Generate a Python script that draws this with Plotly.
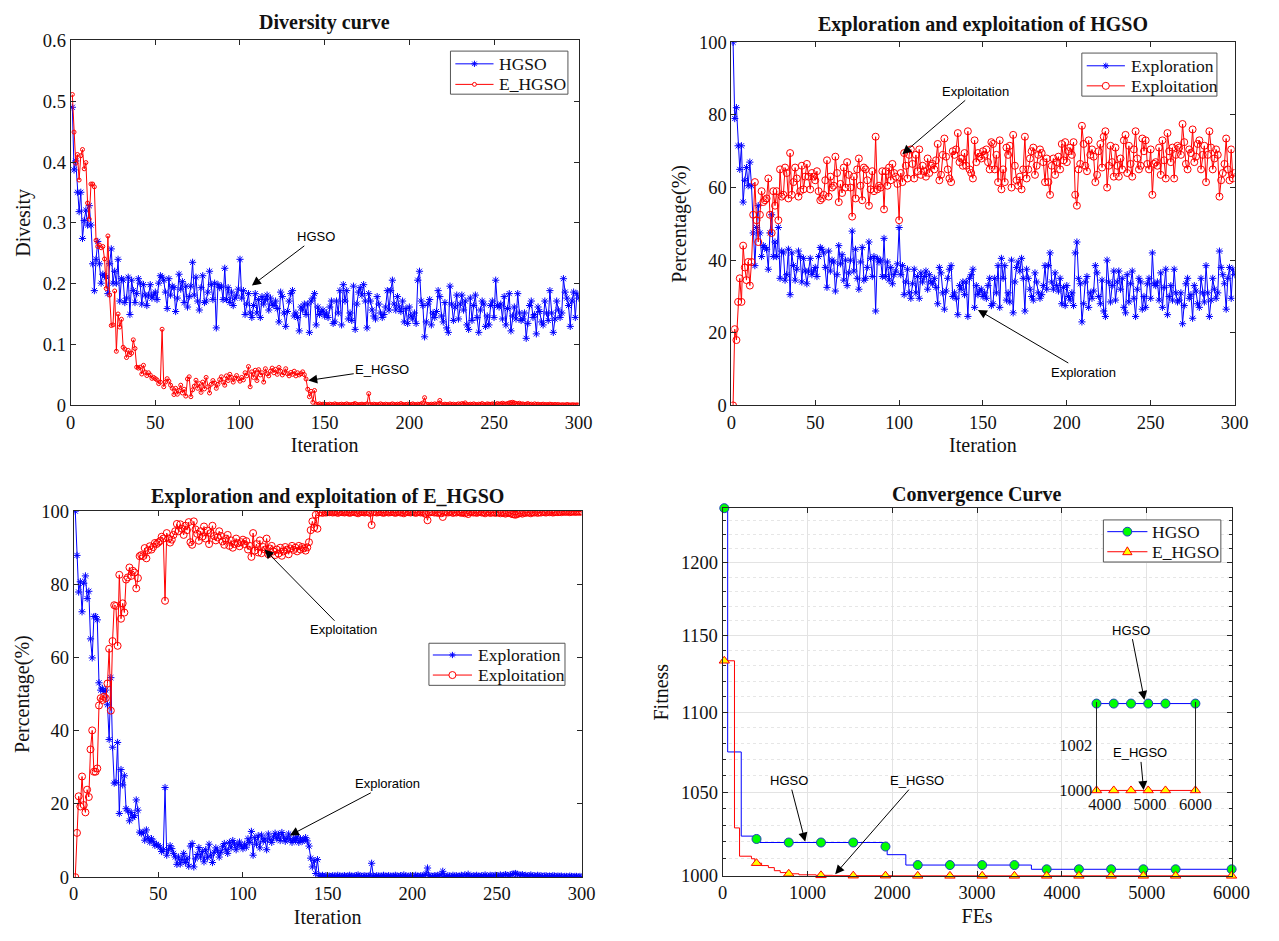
import numpy as np
import plotly.graph_objects as go

# ---------------- data ----------------
iterations = list(range(1, 301))

# largest population diversity of each run (iteration 1)
hgso_div_max = 0.49
ehgso_div_max = 0.511

# exploration percentage per iteration, XPL% = Div / max(Div) * 100
hgso_xpl = [
    100, 79, 82, 71.5, 65, 71.5, 56, 62, 65.5, 60.5,
    67, 60.5, 47.5, 38.5, 49, 55, 47.5, 41, 44, 43.5,
    43, 37.5, 47.5, 52.5, 41, 45, 41, 49, 35, 42.5,
    42, 34.5, 36, 43, 30.5, 42, 38.5, 34.5, 37.5, 42.5,
    41, 34, 40.5, 37, 33.5, 37, 40.5, 36, 37, 38,
    35.5, 41, 43.5, 43, 42, 38, 32.5, 42.5, 37, 40,
    39.5, 31.5, 36, 44, 39, 41.5, 34.5, 40, 33, 36.5,
    40, 48, 37, 43, 35, 32, 39.5, 43.5, 34.5, 35,
    38, 45, 40.5, 35.5, 41, 26, 40.5, 39.5, 40, 35.5,
    46, 35.5, 39.5, 34.5, 38, 33.5, 36, 37, 39, 49,
    36, 38.5, 30.5, 34, 37.5, 31, 29.5, 33.5, 37.5, 31,
    35.5, 29.5, 36.5, 34, 35.5, 37, 32, 36, 34, 33.5,
    35, 32.5, 28, 38, 36.5, 31, 26.5, 31.5, 35, 37.5,
    38.5, 30, 31, 29.5, 25, 33, 32, 34, 30.5, 34,
    24.5, 35, 36, 37.5, 27, 33, 30.5, 31.5, 32, 30,
    31, 29.5, 33, 35, 27.5, 28, 35, 31, 38.5, 27,
    40.5, 35, 38.5, 29, 31, 28.5, 40, 25.5, 34, 38,
    39.5, 37, 40.5, 35, 26, 37.5, 35, 32, 30, 29,
    36.5, 34, 31, 29.5, 30.5, 33, 38.5, 32, 38.5, 42,
    34, 32, 36.5, 33, 31.5, 35, 28, 32.5, 27.5, 33,
    30, 29, 31, 27.5, 42, 45, 35, 33.5, 23, 28,
    34, 35.5, 27, 31, 29.5, 31.5, 38.5, 36.5, 30, 28,
    34.5, 26, 24.5, 40, 34, 28.5, 33, 37, 29, 34,
    37, 32, 35, 27, 25.5, 36, 28.5, 33.5, 37, 29.5,
    24.5, 32, 35, 34, 26.5, 30, 27, 33.5, 35, 29.5,
    42, 33.5, 33, 34, 29, 36.5, 27, 32.5, 37.5, 25,
    30, 33, 29, 37.5, 31, 28.5, 29, 31, 22.5, 27.5,
    33.5, 35, 29.5, 30.5, 24, 33, 31.5, 28, 27, 35,
    31, 28.5, 38.5, 31, 24.5, 29, 35, 32, 29.5, 31,
    42.5, 38, 36, 33.5, 26.5, 35, 38, 29.5, 37.5, 36,
]

ehgso_xpl = [
    100, 87.9, 77.9, 80.7, 72.5, 80.3, 82.3, 76.1, 78.1, 65.1,
    59.9, 71.2, 71.2, 70.3, 53.1, 51.1, 51.6, 50.7, 51.1, 47.1,
    37.6, 54.5, 35.5, 25.7, 25.9, 36.8, 17.4, 29.4, 25.2, 27.7,
    18.7, 18.1, 15.4, 17.7, 16.3, 16.8, 21.1, 18.3, 12.3, 12.0,
    12.3, 10.1, 12.9, 10.7, 9.6, 10.5, 9.8, 8.7, 9.0, 8.6,
    8.2, 7.0, 7.5, 24.5, 6.0, 7.5, 8.6, 7.8, 6.5, 5.5,
    3.5, 5.5, 3.6, 4.8, 6.5, 4.0, 5.2, 3.0, 8.5, 9.2,
    2.8, 5.0, 6.2, 8.1, 5.5, 7.0, 4.2, 7.5, 5.3, 9.0,
    6.0, 4.0, 6.8, 8.0, 7.2, 5.5, 6.8, 8.3, 9.2, 7.5,
    6.5, 9.5, 8.0, 10.0, 9.0, 7.5, 8.8, 9.6, 8.5, 7.8,
    9.0, 8.2, 10.5, 9.5, 12.5, 6.0, 10.8, 9.0, 11.3, 8.0,
    11.5, 9.8, 10.5, 7.5, 11.8, 10.2, 9.5, 11.0, 12.0, 10.5,
    11.6, 10.0, 12.2, 11.0, 9.8, 10.5, 11.8, 10.2, 9.5, 10.6,
    10.0, 11.0, 9.5, 10.5, 9.8, 10.2, 10.8, 9.9, 8.5, 5.2,
    2.8, 4.5, 1.0, 4.8, 0.4, 0.3, 0.5, 0.2, 0.4, 0.3,
    0.3, 0.2, 0.4, 0.3, 0.2, 0.5, 0.3, 0.2, 0.3, 0.4,
    0.2, 0.3, 0.5, 0.3, 0.2, 0.3, 0.4, 0.6, 0.3, 0.2,
    0.3, 0.4, 0.2, 0.3, 0.5, 3.8, 0.3, 0.2, 0.4, 0.3,
    0.2, 0.3, 0.5, 0.3, 0.2, 0.4, 0.3, 0.2, 0.3, 0.5,
    0.3, 0.2, 0.4, 0.3, 0.6, 0.3, 0.2, 0.3, 0.4, 0.2,
    0.3, 0.5, 0.3, 0.2, 0.4, 0.3, 0.5, 0.8, 2.5, 0.4,
    0.3, 0.2, 0.4, 0.3, 0.5, 0.3, 0.6, 1.6, 0.3, 0.2,
    0.4, 0.3, 0.2, 0.5, 0.3, 0.4, 0.2, 0.3, 0.5, 0.3,
    0.6, 0.4, 0.8, 0.3, 0.2, 0.4, 0.3, 0.5, 0.3, 0.2,
    0.4, 0.3, 0.6, 0.3, 0.2, 0.5, 0.4, 0.3, 0.5, 0.4,
    0.3, 0.6, 0.4, 0.5, 0.7, 0.5, 0.4, 0.6, 0.8, 0.9,
    1.0, 0.8, 0.6, 0.5, 0.7, 0.4, 0.5, 0.3, 0.4, 0.6,
    0.3, 0.4, 0.2, 0.5, 0.3, 0.4, 0.2, 0.3, 0.4, 0.2,
    0.3, 0.2, 0.4, 0.3, 0.2, 0.3, 0.2, 0.3, 0.1, 0.2,
    0.2, 0.1, 0.3, 0.2, 0.1, 0.2, 0.2, 0.1, 0.2, 0.1,
]

# convergence: FEs at which the best fitness improved, and the new best value
hgso_conv_fes = [20, 60, 220, 400, 440, 1900, 1940, 2160, 3640]
hgso_conv_fit = [1238.7, 1074.8, 1023.4, 1021.7, 1019.6, 1017.2, 1012.4, 1006.3, 1003.83]
ehgso_conv_fes = [20, 140, 200, 340, 380, 460, 540, 610, 680, 760, 900, 1100, 1300, 2000]
ehgso_conv_fit = [1133.4, 1028.3, 1011.5, 1010.0, 1007.4, 1006.0, 1004.8, 1003.0,
                  1001.9, 1001.2, 1000.6, 1000.3, 1000.1, 1000.0]
max_fes = 6000
marker_fes = [20, 400, 780, 1160, 1540, 1920, 2300, 2680, 3060, 3440,
              3820, 4200, 4580, 4960, 5340, 6000]

# ---------------- derived series ----------------
hgso_div = [v / 100 * hgso_div_max for v in hgso_xpl]
ehgso_div = [v / 100 * ehgso_div_max for v in ehgso_xpl]
hgso_xpt = [100 - v for v in hgso_xpl]
ehgso_xpt = [100 - v for v in ehgso_xpl]


def best_at(fes_steps, fit_steps, f):
    val = fit_steps[0]
    for s, v in zip(fes_steps, fit_steps):
        if s <= f:
            val = v
    return val


hgso_line_x = hgso_conv_fes + [max_fes]
hgso_line_y = hgso_conv_fit + [hgso_conv_fit[-1]]
ehgso_line_x = ehgso_conv_fes + [max_fes]
ehgso_line_y = ehgso_conv_fit + [ehgso_conv_fit[-1]]
hgso_mk_y = [best_at(hgso_conv_fes, hgso_conv_fit, f) for f in marker_fes]
ehgso_mk_y = [best_at(ehgso_conv_fes, ehgso_conv_fit, f) for f in marker_fes]
inset_fes = [f for f in marker_fes if f >= 3820]
hgso_in_y = [best_at(hgso_conv_fes, hgso_conv_fit, f) for f in inset_fes]
ehgso_in_y = [best_at(ehgso_conv_fes, ehgso_conv_fit, f) for f in inset_fes]

# ---------------- style helpers ----------------
W, H = 1279, 941
SERIF = "Liberation Serif"
SANS = "Liberation Sans"
BLUE = "#0000ff"
RED = "#ff0000"
AX = "#262626"
GREEN = "#00ff00"
YELLOW = "#ffff00"
RING = "#1f3fbf"


def xdom(l, r):
    return [l / W, r / W]


def ydom(t, b):
    return [1 - b / H, 1 - t / H]


def axis(**kw):
    d = dict(showline=True, linecolor=AX, linewidth=1, mirror="ticks",
             ticks="inside", ticklen=5, tickcolor=AX,
             tickfont=dict(family=SERIF, size=18.5, color="#111"),
             showgrid=False, zeroline=False,
             title_font=dict(family=SERIF, size=20, color="#111"))
    d.update(kw)
    return d


star = dict(symbol="asterisk-open", size=6, color=BLUE, line=dict(width=1, color=BLUE))
ring_small = dict(symbol="circle-open", size=4, color=RED, line=dict(width=1, color=RED))
ring = dict(symbol="circle-open", size=7, color=RED, line=dict(width=1, color=RED))
hgso_mk = dict(symbol="circle", size=9, color=GREEN, line=dict(width=1, color=RING))
ehgso_mk = dict(symbol="triangle-up", size=9, color=YELLOW, line=dict(width=1, color=RED))

fig = go.Figure()


def series(x, y, color, marker, xa, ya):
    fig.add_trace(go.Scatter(x=x, y=y, mode="lines+markers", line=dict(color=color, width=1),
                             marker=marker, xaxis=xa, yaxis=ya))


# diversity
series(iterations, hgso_div, BLUE, star, "x", "y")
series(iterations, ehgso_div, RED, ring_small, "x", "y")
# HGSO exploration / exploitation
series(iterations, hgso_xpl, BLUE, star, "x2", "y2")
series(iterations, hgso_xpt, RED, ring, "x2", "y2")
# E_HGSO exploration / exploitation
series(iterations, ehgso_xpl, BLUE, star, "x3", "y3")
series(iterations, ehgso_xpt, RED, ring, "x3", "y3")

# convergence curves (main panel and magnified inset)
for xa, ya in (("x4", "y4"), ("x5", "y5")):
    fig.add_trace(go.Scatter(x=hgso_line_x, y=hgso_line_y, mode="lines", line_shape="hv",
                             line=dict(color=BLUE, width=1), xaxis=xa, yaxis=ya))
    fig.add_trace(go.Scatter(x=ehgso_line_x, y=ehgso_line_y, mode="lines", line_shape="hv",
                             line=dict(color=RED, width=1), xaxis=xa, yaxis=ya))
fig.add_trace(go.Scatter(x=marker_fes, y=hgso_mk_y, mode="markers", marker=hgso_mk,
                         cliponaxis=False, xaxis="x4", yaxis="y4"))
fig.add_trace(go.Scatter(x=marker_fes, y=ehgso_mk_y, mode="markers", marker=ehgso_mk,
                         cliponaxis=False, xaxis="x4", yaxis="y4"))
fig.add_trace(go.Scatter(x=inset_fes, y=hgso_in_y, mode="markers", marker=hgso_mk,
                         cliponaxis=False, xaxis="x5", yaxis="y5"))
fig.add_trace(go.Scatter(x=inset_fes, y=ehgso_in_y, mode="markers", marker=ehgso_mk,
                         cliponaxis=False, xaxis="x5", yaxis="y5"))

# ---------------- axes ----------------
minor_fit = [v for v in range(1010, 1240, 10) if v % 50 != 0]
inset_font = dict(family=SERIF, size=16.5, color="#111")

fig.update_layout(
    width=W, height=H, margin=dict(l=0, r=0, t=0, b=0), showlegend=False,
    paper_bgcolor="white", plot_bgcolor="rgba(0,0,0,0)",
    xaxis=axis(domain=xdom(64, 583), range=[0, 300], dtick=50, title_text="Iteration",
               anchor="y", title_standoff=6),
    yaxis=axis(domain=ydom(31, 404), range=[0, 0.6], dtick=0.1, title_text="Divesity",
               anchor="x", title_standoff=6),
    xaxis2=axis(domain=xdom(739, 1253), range=[0, 300], dtick=50, title_text="Iteration",
                anchor="y2", title_standoff=6),
    yaxis2=axis(domain=ydom(33, 404), range=[0, 100], dtick=20, title_text="Percentage(%)",
                anchor="x2", title_standoff=6),
    xaxis3=axis(domain=xdom(67, 586), range=[0, 300], dtick=50, title_text="Iteration",
                anchor="y3", title_standoff=6),
    yaxis3=axis(domain=ydom(512, 886), range=[0, 100], dtick=20, title_text="Percentage(%)",
                anchor="x3", title_standoff=6),
    xaxis4=axis(domain=xdom(730, 1250), range=[0, max_fes], dtick=1000, title_text="FEs",
                anchor="y4", title_standoff=6, showgrid=True, gridcolor="#e3e3e3"),
    yaxis4=axis(domain=ydom(509, 885), type="log",
                range=[np.log10(999.8), np.log10(1238.7)],
                tickvals=[1000, 1050, 1100, 1150, 1200], title_text="Fitness",
                anchor="x4", title_standoff=6, showgrid=True, gridcolor="#e3e3e3",
                minor=dict(tickvals=minor_fit, showgrid=True, gridcolor="#e6e6e6",
                           griddash="dot", ticks="inside", ticklen=3, tickcolor=AX)),
    xaxis5=dict(domain=xdom(1112, 1213), range=[3820, 6000], tickvals=[4000, 5000, 6000],
                showline=False, showgrid=False, zeroline=False, ticks="",
                tickfont=inset_font, anchor="y5"),
    yaxis5=dict(domain=ydom(707, 799), range=[999.93, 1003.9], tickvals=[1000, 1002],
                showline=True, mirror=True, linecolor=AX, linewidth=1,
                showgrid=False, zeroline=False, ticks="",
                tickfont=inset_font, anchor="x5"),
)

# ---------------- legends (boxed keys) ----------------
shapes = []
annotations = []


def px(x, y):
    return x / W, 1 - y / H


def seg(x0, y0, x1, y1, color, width=1):
    a, b = px(x0, y0)
    c, d = px(x1, y1)
    shapes.append(dict(type="line", xref="paper", yref="paper", x0=a, y0=b, x1=c, y1=d,
                       line=dict(color=color, width=width), layer="above"))


def circle(cx, cy, r, fill, edge):
    a, b = px(cx - r, cy + r)
    c, d = px(cx + r, cy - r)
    shapes.append(dict(type="circle", xref="paper", yref="paper", x0=a, y0=b, x1=c, y1=d,
                       fillcolor=fill, line=dict(color=edge, width=1), layer="above"))


def triangle(cx, cy, r, fill, edge):
    pts = [px(cx, cy - r), px(cx + r * 0.95, cy + r * 0.6), px(cx - r * 0.95, cy + r * 0.6)]
    path = "M %f,%f L %f,%f L %f,%f Z" % (pts[0] + pts[1] + pts[2])
    shapes.append(dict(type="path", xref="paper", yref="paper", path=path,
                       fillcolor=fill, line=dict(color=edge, width=1), layer="above"))


def asterisk(cx, cy, r, color):
    seg(cx - r, cy, cx + r, cy, color)
    seg(cx, cy - r, cx, cy + r, color)
    k = r * 0.72
    seg(cx - k, cy - k, cx + k, cy + k, color)
    seg(cx - k, cy + k, cx + k, cy - k, color)


def legend_box(left, top, right, bottom, rows, line_x0, line_x1, text_x):
    a, b = px(left, bottom)
    c, d = px(right, top)
    shapes.append(dict(type="rect", xref="paper", yref="paper", x0=a, y0=b, x1=c, y1=d,
                       fillcolor="white", line=dict(color="#555", width=1), layer="above"))
    mid = (line_x0 + line_x1) / 2
    for label, y, color, key in rows:
        seg(line_x0, y, line_x1, y, color)
        key(mid, y)
        tx, ty = px(text_x, y)
        annotations.append(dict(text=label, x=tx, y=ty, xref="paper", yref="paper",
                                xanchor="left", yanchor="middle", showarrow=False,
                                font=dict(family=SERIF, size=17.5, color="#111")))


key_star = lambda x, y: asterisk(x, y, 3.2, BLUE)
key_dot = lambda x, y: circle(x, y, 2, "white", RED)
key_ring = lambda x, y: circle(x, y, 3.6, "white", RED)
key_green = lambda x, y: circle(x, y, 4.5, GREEN, RING)
key_tri = lambda x, y: triangle(x, y, 5, YELLOW, RED)

legend_box(452, 42, 572, 86, [("HGSO", 55, BLUE, key_star), ("E_HGSO", 76, RED, key_dot)],
           457, 496, 500)
legend_box(1097, 44, 1235, 88, [("Exploration", 57, BLUE, key_star),
                                ("Exploitation", 77.5, RED, key_ring)], 1102, 1141, 1145)
legend_box(430, 647, 569, 690, [("Exploration", 659, BLUE, key_star),
                                ("Exploitation", 679.5, RED, key_ring)], 434, 474, 478)
legend_box(1119, 521, 1239, 564, [("HGSO", 533, BLUE, key_green),
                                  ("E_HGSO", 553.5, RED, key_tri)], 1123, 1164, 1167)

# ---------------- titles and callouts ----------------
for text, cx, cy in (("Diversity curve", 323.5, 13),
                     ("Exploration and exploitation of HGSO", 996, 15),
                     ("Exploration and exploitation of E_HGSO", 326.5, 497),
                     ("Convergence Curve", 990, 495)):
    annotations.append(dict(text="<b>%s</b>" % text, x=cx / W, y=1 - cy / H,
                            xref="paper", yref="paper", showarrow=False,
                            xanchor="center", yanchor="middle",
                            font=dict(family=SERIF, size=20, color="#111")))


def callout(text, x, y, tx, ty, xr, yr):
    return dict(text=text, x=x, y=y, ax=tx, ay=ty, xref=xr, yref=yr, axref=xr, ayref=yr,
                showarrow=True, arrowhead=2, arrowsize=1.8, arrowwidth=1,
                arrowcolor="black", font=dict(family=SANS, size=13, color="black"))


lg = np.log10
annotations += [
    callout("HGSO", 107, 0.197, 145, 0.277, "x", "y"),
    callout("E_HGSO", 140.3, 0.041, 184, 0.059, "x", "y"),
    callout("Exploitation", 101.9, 69.2, 145.7, 86.5, "x2", "y2"),
    callout("Exploration", 147, 26.3, 210, 9.2, "x2", "y2"),
    callout("Exploitation", 112.8, 89.5, 159.3, 67.6, "x3", "y3"),
    callout("Exploration", 127.7, 11.4, 185.6, 25.5, "x3", "y3"),
    callout("HGSO", 974, lg(1020.1), 788, lg(1057), "x4", "y4"),
    callout("E_HGSO", 1327, lg(1001), 2289, lg(1057), "x4", "y4"),
    callout("HGSO", 4972, lg(1107.8), 4810, lg(1153.8), "x4", "y4"),
    callout("E_HGSO", 4963, lg(1051.2), 4922, lg(1074.2), "x4", "y4"),
]
fig.update_layout(shapes=shapes, annotations=annotations)

fig.write_html("out.html")
